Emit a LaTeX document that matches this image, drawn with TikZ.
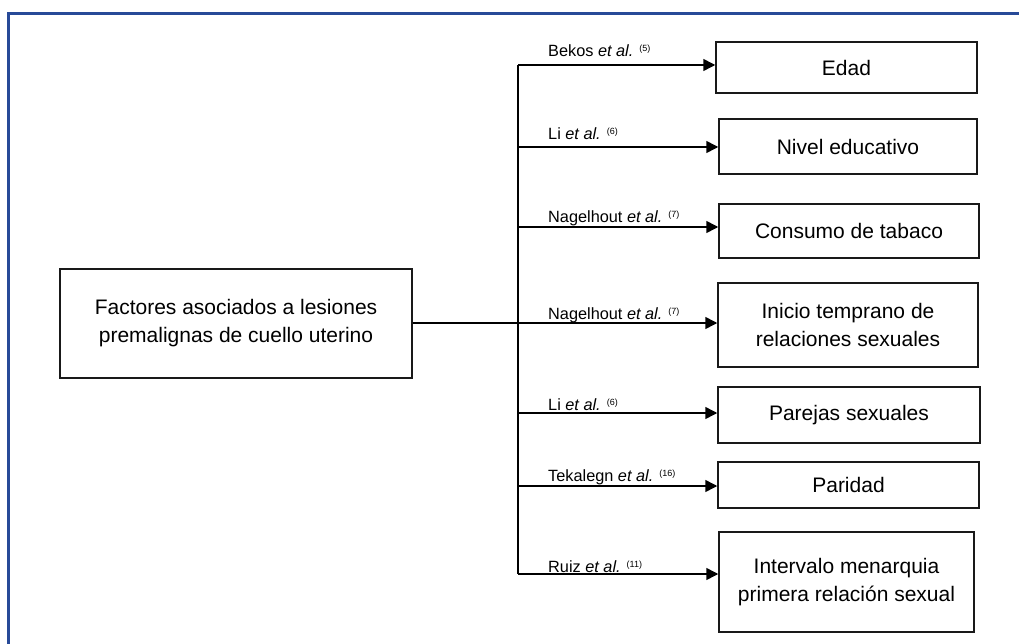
\documentclass[tikz,border=0pt]{standalone}
\usepackage{fontspec}
\setmainfont{Liberation Sans}
\usetikzlibrary{arrows.meta}
\definecolor{framecol}{RGB}{40,74,152}
\newcommand{\refnum}[1]{\raisebox{5pt}{\fontsize{9}{9}\selectfont(#1)}}
\begin{document}
\begin{tikzpicture}[x=1pt,y=-1pt,
  box/.style={draw=black!90, line width=1.5pt, inner sep=0pt, align=center,
    font=\fontsize{21}{28}\selectfont},
  reflabel/.style={anchor=base west, inner sep=0pt, font=\fontsize{16.3}{18}\selectfont},
  link/.style={line width=1.5pt, -{Triangle[length=12pt,width=12pt]}},
  trunk/.style={line width=1.5pt},
  frame/.style={draw=framecol, line width=3pt}]
\useasboundingbox (0,0) rectangle (1019,644);

% outer frame (top and left sides)
\draw[frame] (8,644) -- (8,14) -- (1019,14);

% central box
\node[box, minimum width=352pt, minimum height=109pt] (main) at (236,323.5)
  {Factores asociados a lesiones\\premalignas de cuello uterino};

% factor boxes
\node[box, minimum width=261pt, minimum height=51pt]  (edad)   at (846.5,67.5) {Edad};
\node[box, minimum width=258pt, minimum height=55pt]  (nivel)  at (848,146.5)  {Nivel educativo};
\node[box, minimum width=260pt, minimum height=54pt]  (tabaco) at (849,231)    {Consumo de tabaco};
\node[box, minimum width=260pt, minimum height=84pt]  (inicio) at (848,325)    {Inicio temprano de\\relaciones sexuales};
\node[box, minimum width=262pt, minimum height=56pt]  (parejas) at (849,415)   {Parejas sexuales};
\node[box, minimum width=261pt, minimum height=46pt]  (paridad) at (848.5,485) {Paridad};
\node[box, minimum width=255pt, minimum height=100pt] (interv) at (846.5,582)  {Intervalo menarquia\\primera relación sexual};

% branch points on the vertical trunk
\coordinate (t1) at (518,65);
\coordinate (t2) at (518,147);
\coordinate (t3) at (518,227);
\coordinate (t5) at (518,413);
\coordinate (t6) at (518,486);
\coordinate (t7) at (518,574);

\draw[trunk] (t1) -- (t7);
\draw[link] (t1) -- (t1 -| edad.west);
\draw[link] (t2) -- (t2 -| nivel.west);
\draw[link] (t3) -- (t3 -| tabaco.west);
\draw[link] (main.east |- 0,323) -- (inicio.west |- 0,323);
\draw[link] (t5) -- (t5 -| parejas.west);
\draw[link] (t6) -- (t6 -| paridad.west);
\draw[link] (t7) -- (t7 -| interv.west);

% citation labels
\node[reflabel] (l1) at (548,56.7)  {Bekos \textit{et al.} \refnum{5}};
\node[reflabel] (l2) at (548,140)   {Li \textit{et al.} \refnum{6}};
\node[reflabel] (l3) at (548,222.5) {Nagelhout \textit{et al.} \refnum{7}};
\node[reflabel] (l4) at (548,319.3) {Nagelhout \textit{et al.} \refnum{7}};
\node[reflabel] (l5) at (548,410)   {Li \textit{et al.} \refnum{6}};
\node[reflabel] (l6) at (548,481.7) {Tekalegn \textit{et al.} \refnum{16}};
\node[reflabel] (l7) at (548,572.3) {Ruiz \textit{et al.} \refnum{11}};
\end{tikzpicture}
\end{document}
